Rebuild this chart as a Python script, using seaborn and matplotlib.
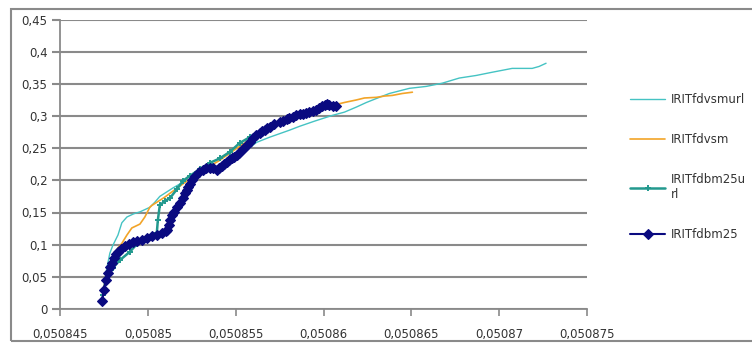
import numpy as np
import pandas as pd
import matplotlib
matplotlib.use("Agg")
import matplotlib.pyplot as plt
from matplotlib.patches import Rectangle
import seaborn as sns

# ---- data (x offsets in 1e-6 from 0.050845) ----
x0 = 0.050845
s1_name = "IRITfdvsmurl"
s1_u = [2.39, 2.50, 2.67, 2.84, 3.01, 3.30, 3.52, 3.81, 4.20, 4.55, 5.11, 5.40, 5.68, 6.08,
        6.42, 6.99, 7.67, 8.35, 9.09, 9.66, 10.23, 11.19, 11.93, 13.07, 13.64, 14.49, 15.51,
        16.19, 16.88, 17.44, 18.18, 18.75, 19.89, 20.85, 21.76, 22.73, 23.69, 24.60, 25.74,
        26.88, 27.27, 27.67]
s1_y = [0.014, 0.037, 0.064, 0.087, 0.099, 0.115, 0.134, 0.143, 0.148, 0.151, 0.158, 0.166,
        0.175, 0.182, 0.188, 0.197, 0.205, 0.213, 0.224, 0.231, 0.239, 0.259, 0.267, 0.278,
        0.284, 0.292, 0.301, 0.306, 0.314, 0.321, 0.329, 0.335, 0.343, 0.346, 0.351, 0.359,
        0.363, 0.368, 0.374, 0.374, 0.377, 0.382]

s2_name = "IRITfdvsm"
s2_u = [2.44, 2.61, 2.95, 3.30, 3.52, 3.81, 4.09, 4.55, 4.83, 5.11, 5.23, 5.97, 6.82, 7.95,
        9.09, 10.23, 11.36, 12.50, 13.64, 14.77, 15.74, 16.19, 16.88, 17.33, 18.01, 18.47,
        18.92, 19.49, 20.06]
s2_y = [0.019, 0.053, 0.079, 0.095, 0.102, 0.115, 0.126, 0.132, 0.143, 0.158, 0.161, 0.174,
        0.191, 0.213, 0.231, 0.253, 0.273, 0.287, 0.303, 0.312, 0.318, 0.321, 0.325, 0.328,
        0.329, 0.331, 0.332, 0.335, 0.337]

s3_name = "IRITfdbm25u\nrl"
s3_u = [2.44, 2.67, 3.01, 3.41, 3.98, 4.38, 4.94, 5.51, 5.57, 5.68, 5.97, 6.25, 6.65, 6.99,
        7.39, 7.95, 8.52, 9.09, 9.66, 10.23, 10.80, 11.36, 11.93, 12.78]
s3_y = [0.022, 0.048, 0.064, 0.076, 0.089, 0.101, 0.110, 0.118, 0.138, 0.161, 0.168, 0.172,
        0.186, 0.199, 0.207, 0.217, 0.227, 0.234, 0.244, 0.258, 0.267, 0.275, 0.283, 0.292]

s4_name = "IRITfdbm25"
s4_u = [2.39, 2.50, 2.61, 2.72, 2.84, 2.95, 3.07, 3.18, 3.30, 3.50, 3.69, 3.92, 4.15, 4.40,
        4.66, 4.95, 5.23, 5.50, 5.80, 6.02, 6.10, 6.19, 6.28, 6.36, 6.50, 6.65, 6.82, 6.99,
        7.10, 7.22, 7.30, 7.39, 7.52, 7.67, 7.90, 8.13, 8.30, 8.52, 8.70, 8.92, 9.05, 9.20,
        9.35, 9.49, 9.63, 9.77, 9.92, 10.06, 10.20, 10.34, 10.48, 10.63, 10.80, 10.97, 11.16,
        11.36, 11.50, 11.65, 11.80, 11.93, 12.20, 12.50, 12.70, 12.90, 13.05, 13.24, 13.45,
        13.64, 13.85, 14.03, 14.20, 14.38, 14.57, 14.77, 14.92, 15.06, 15.20, 15.34, 15.55,
        15.74]
s4_y = [0.012, 0.030, 0.045, 0.056, 0.065, 0.072, 0.079, 0.085, 0.089, 0.094, 0.098, 0.101,
        0.104, 0.106, 0.107, 0.110, 0.113, 0.115, 0.118, 0.121, 0.123, 0.130, 0.138, 0.146,
        0.151, 0.159, 0.165, 0.173, 0.180, 0.185, 0.189, 0.195, 0.200, 0.207, 0.213, 0.216,
        0.219, 0.219, 0.219, 0.216, 0.219, 0.222, 0.225, 0.228, 0.231, 0.234, 0.237, 0.239,
        0.243, 0.247, 0.251, 0.255, 0.260, 0.266, 0.270, 0.273, 0.276, 0.278, 0.281, 0.283,
        0.287, 0.290, 0.293, 0.295, 0.297, 0.298, 0.301, 0.303, 0.303, 0.304, 0.306, 0.307,
        0.309, 0.312, 0.315, 0.317, 0.318, 0.317, 0.316, 0.315]

x_ticks = [0.050845, 0.05085, 0.050855, 0.05086, 0.050865, 0.05087, 0.050875]
x_tick_labels = ["0,050845", "0,05085", "0,050855", "0,05086", "0,050865", "0,05087", "0,050875"]
y_ticks = [0, 0.05, 0.1, 0.15, 0.2, 0.25, 0.3, 0.35, 0.4, 0.45]
y_tick_labels = ["0", "0,05", "0,1", "0,15", "0,2", "0,25", "0,3", "0,35", "0,4", "0,45"]

def to_x(u):
    return [x0 + v * 1e-6 for v in u]

sns.set_style("white")
plt.rcParams['font.family'] = ['DejaVu Sans']

fig = plt.figure(figsize=(7.52, 3.43), dpi=100)
ax = fig.add_axes([60/752, 1 - 309/343, (587 - 60)/752, (309 - 19.5)/343])

grid_c = "#8a8a8a"
navy = "#0A0A80"
teal = "#23998E"
sns.lineplot(x=to_x(s1_u), y=s1_y, ax=ax, sort=False, estimator=None, color="#45C3C3",
             linewidth=1.0, linestyle="-", label=s1_name)
sns.lineplot(x=to_x(s2_u), y=s2_y, ax=ax, sort=False, estimator=None, color="#F2A428",
             linewidth=1.2, linestyle="-", label=s2_name)
sns.lineplot(x=to_x(s3_u), y=s3_y, ax=ax, sort=False, estimator=None, color=teal,
             linewidth=1.8, linestyle="-", marker="+", markersize=5, markeredgewidth=1.4,
             markeredgecolor=teal, label=s3_name)
sns.lineplot(x=to_x(s4_u), y=s4_y, ax=ax, sort=False, estimator=None, color=navy,
             linewidth=1.5, linestyle="-", marker="D", markersize=4.6, markeredgewidth=0.8,
             markeredgecolor=navy, markerfacecolor=navy, label=s4_name)

ax.set_xlim(0.050845, 0.050875)
ax.set_ylim(0, 0.45)
ax.set_xticks(x_ticks)
ax.set_xticklabels(x_tick_labels)
ax.set_yticks(y_ticks)
ax.set_yticklabels(y_tick_labels)
ax.set_xlabel("")
ax.set_ylabel("")

ax.grid(axis="y", color=grid_c, linewidth=1.5)
ax.grid(axis="x", visible=False)
ax.set_axisbelow(True)
for side in ["top", "right"]:
    ax.spines[side].set_visible(False)
for side in ["left", "bottom"]:
    ax.spines[side].set_color(grid_c)
    ax.spines[side].set_linewidth(1.3)

ax.tick_params(axis="x", direction="out", length=5, width=1.2, color=grid_c,
               labelsize=8.5, labelcolor="#333333", pad=9, bottom=True)
ax.tick_params(axis="y", direction="out", length=6, width=1.5, color=grid_c,
               labelsize=8.5, labelcolor="#333333", pad=3, left=True)

leg = ax.legend(loc="upper left", bbox_to_anchor=(630/752, 1 - 93/343),
                bbox_transform=fig.transFigure, frameon=False, fontsize=8.5,
                handlelength=3.0, handletextpad=0.45, labelspacing=2.3,
                borderaxespad=0, borderpad=0)
for t in leg.get_texts():
    t.set_color("#333333")

fig.patches.append(Rectangle((11/752, 1 - 341/343), 1.0, (341 - 9)/343,
                             transform=fig.transFigure, fill=False,
                             edgecolor=grid_c, linewidth=1.5))

fig.savefig("out.png", dpi=100, facecolor="white")
